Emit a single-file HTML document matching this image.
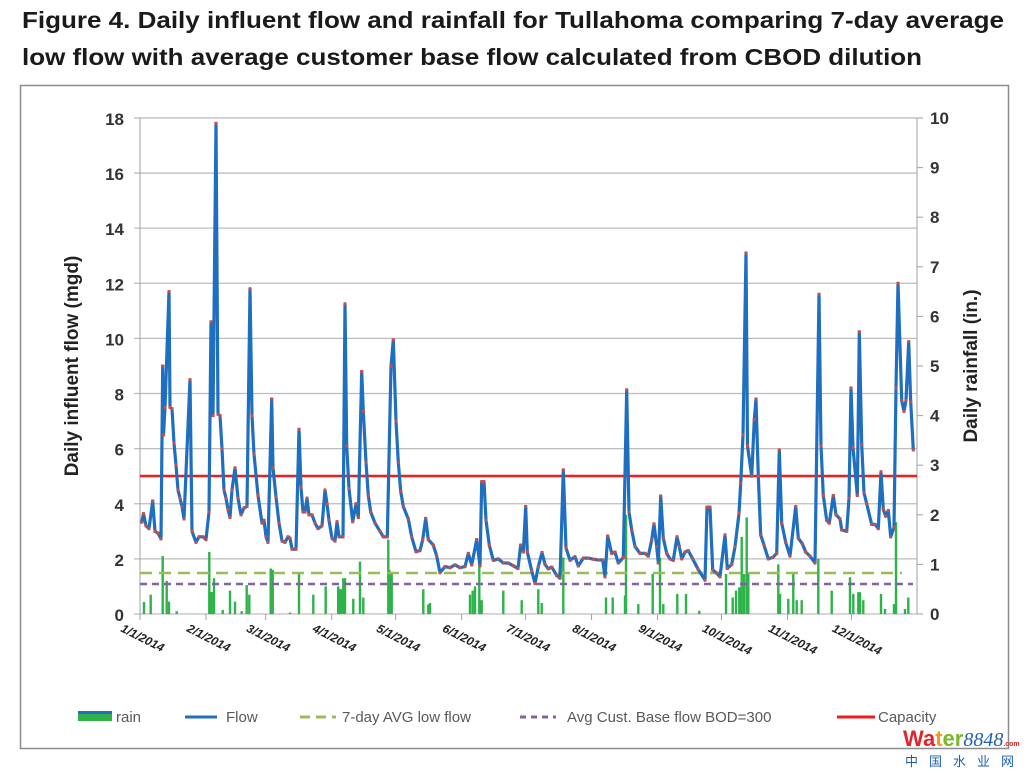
<!DOCTYPE html>
<html><head><meta charset="utf-8"><style>
html,body{margin:0;padding:0;background:#fff;}
svg{display:block;font-family:"Liberation Sans",Arial,sans-serif;}
</style></head><body>
<svg id="s" width="1031" height="774" viewBox="0 0 1031 774" xmlns="http://www.w3.org/2000/svg">
<text x="22" y="28" font-size="23" font-weight="bold" fill="#1a1a1a" textLength="982" lengthAdjust="spacingAndGlyphs">Figure 4. Daily influent flow and rainfall for Tullahoma comparing 7-day average</text>
<text x="22" y="65" font-size="23" font-weight="bold" fill="#1a1a1a" textLength="900" lengthAdjust="spacingAndGlyphs">low flow with average customer base flow calculated from CBOD dilution</text>
<rect x="20.5" y="85.5" width="988" height="663" fill="none" stroke="#8c8c8c" stroke-width="1.5"/>
<g id="grid"></g>
<g id="rain"></g>
<line x1="140" y1="573" x2="902" y2="573" stroke="#9bbb59" stroke-width="2.5" stroke-dasharray="12,7"/>
<line x1="140" y1="584" x2="913" y2="584" stroke="#8064a2" stroke-width="2.5" stroke-dasharray="7,5"/>
<line x1="140" y1="476" x2="917" y2="476" stroke="#ee1c1c" stroke-width="2.5"/>
<polyline id="flow" fill="none" stroke="#1f6fc0" stroke-width="3.2" stroke-linejoin="round"/>
<g id="dots"></g>
<g id="labels"></g>
<text transform="translate(78,366) rotate(-90)" font-size="19" font-weight="bold" fill="#222" text-anchor="middle">Daily influent flow (mgd)</text>
<text transform="translate(977,366) rotate(-90)" font-size="19" font-weight="bold" fill="#222" text-anchor="middle">Daily rainfall (in.)</text>
<g font-size="15" fill="#595959">
<rect x="78" y="711" width="34" height="10" fill="#2db34a"/><rect x="78" y="711" width="34" height="3" fill="#1f6fc0"/>
<text x="116" y="722">rain</text>
<line x1="185" y1="717" x2="217" y2="717" stroke="#1f6fc0" stroke-width="3"/>
<text x="226" y="722">Flow</text>
<line x1="300" y1="717" x2="336" y2="717" stroke="#9bbb59" stroke-width="3" stroke-dasharray="10,6"/>
<text x="342" y="722">7-day AVG low flow</text>
<line x1="520" y1="717" x2="556" y2="717" stroke="#8064a2" stroke-width="3" stroke-dasharray="6,5"/>
<text x="567" y="722">Avg Cust. Base flow BOD=300</text>
<line x1="837" y1="717" x2="875" y2="717" stroke="#ee1c1c" stroke-width="3"/>
<text x="878" y="722">Capacity</text>
</g>
<text x="903" y="746" font-size="22" font-weight="bold"><tspan fill="#e0262a">Wa</tspan><tspan fill="#f39a1e">t</tspan><tspan fill="#7ab828">er</tspan><tspan fill="#1f5fb0" font-style="italic" font-weight="normal" font-family="Liberation Serif,serif" font-size="20">8848</tspan><tspan fill="#e0262a" font-size="7">.com</tspan></text>
<text x="905" y="766" font-size="13" fill="#1f5fb0" font-family="Noto Sans CJK SC,sans-serif" letter-spacing="11">中国水业网</text>
</svg>
<script>
function Y(v){return 614-v*27.56;}
var g=document.getElementById('grid'),h='';
for(var v=0;v<=18;v+=2){h+='<line x1="134" x2="917" y1="'+Y(v)+'" y2="'+Y(v)+'" stroke="#bdbdbd" stroke-width="1.3"/>';}
h+='<line x1="140" x2="140" y1="118" y2="614" stroke="#a0a0a0"/><line x1="917" x2="917" y1="118" y2="614" stroke="#a0a0a0"/>';
for(var r=0;r<=10;r++){var y=614-r*49.6;h+='<line x1="917" x2="923" y1="'+y+'" y2="'+y+'" stroke="#a0a0a0"/>';}
var md=[0,31,59,90,120,151,181,212,243,273,304,334];
var L='';
for(var i=0;i<12;i++){var x=140+md[i]*2.13;h+='<line x1="'+x+'" x2="'+x+'" y1="614" y2="620" stroke="#a0a0a0"/>';
L+='<text transform="translate('+(x-20)+',631) rotate(27)" font-size="12" font-weight="bold" font-style="italic" fill="#222">'+(i+1)+'/1/2014</text>';}
for(var v=0;v<=18;v+=2){L+='<text x="124" y="'+(Y(v)+7)+'" font-size="17" font-weight="bold" fill="#333" text-anchor="end">'+v+'</text>';}
for(var r=0;r<=10;r++){L+='<text x="930" y="'+(614-r*49.6+6)+'" font-size="17" font-weight="bold" fill="#333">'+r+'</text>';}
g.innerHTML=h;document.getElementById('labels').innerHTML=L;
var P=[141.7,3.33,143.5,3.64,146,3.2,149,3.1,152.7,4.1,155,3.0,158,2.93,161,2.73,162.7,9.0,163.5,6.5,165,7.5,169,11.7,170,7.5,172,7.45,174,6.2,176,5.4,178,4.5,180,4.2,182,3.9,184,3.45,190,8.5,192,3.0,196,2.6,199,2.8,203,2.8,206,2.7,209,3.7,211,10.6,213,7.2,216,17.8,218,7.25,220,7.2,222,6.0,224,4.5,226,4.2,228,3.8,230,3.5,232,4.5,235,5.3,238,4.2,241,3.6,244,3.85,247,3.9,250,11.8,252,7.2,254,5.8,258,4.3,262,3.3,264,3.4,266,2.8,268,2.6,271.7,7.8,273,5.3,276,4.25,279,3.3,282,2.65,285,2.6,288,2.8,290,2.75,292,2.35,296,2.35,299,6.7,301,4.6,303,3.7,305,3.7,307,4.2,309,3.6,312,3.6,315,3.3,318,3.1,322,3.2,325,4.5,327,4.0,329,3.4,332,2.75,335,2.65,337,3.35,339,2.8,343,2.8,345,11.25,
346.7,6.1,349,4.55,352.7,3.35,356,4.0,358.3,3.5,361.7,8.8,363.3,7.35,366,5.5,368.3,4.3,370.7,3.7,375,3.3,380,3.0,383.3,2.8,387.3,2.8,391,9.0,393.3,9.95,396,7.0,398.3,5.5,400.7,4.45,403.3,3.9,408.3,3.45,411.7,2.8,416,2.26,420,2.3,422.7,2.7,425.7,3.47,428.3,2.7,433.3,2.5,436.7,2.1,440,1.5,445,1.72,450,1.68,455,1.78,460,1.68,465,1.72,468.3,2.2,471.7,1.78,476.7,2.7,480,1.75,481.7,4.8,484,4.8,486,3.4,489.3,2.5,493.3,1.95,498.3,2.0,503.3,1.85,508.3,1.85,513.3,1.75,518,1.65,520.7,2.5,523.3,2.25,525.7,3.9,527.3,2.25,531.7,1.57,535,1.11,538.3,1.72,542,2.23,545,1.8,548.3,1.64,551.7,1.7,556.7,1.4,560,1.3,563.3,5.23,566,2.4,570,1.95,575,2.08,578.3,1.74,583.3,2.03,588.3,2.03,593.3,1.99,598.3,1.96,602.7,1.96,605,1.35,607.7,2.83,611.7,2.2,615,2.25,618.3,1.85,623.3,2.05,626.7,8.13,
629,3.7,631.7,3.05,635,2.45,640,2.2,645,2.2,648.3,2.1,651.7,2.68,654,3.27,656.7,2.45,658.3,1.85,660.7,4.28,663.3,2.75,666.7,2.2,670,2.0,673.3,1.95,677,2.8,679.3,2.45,681.7,2.0,685,2.25,688.3,2.3,692.7,2.0,698,1.63,705,1.23,707,3.88,710,3.88,712.7,1.6,716.7,1.48,720,1.35,725,2.87,727.3,1.65,731.7,1.8,735,2.44,739,3.65,740.7,4.74,743,6.5,746,13.1,747.5,6.1,751.7,5.0,754.3,7.05,756,7.8,758.3,5.0,760.7,2.87,764,2.5,768.3,2.0,772.7,2.05,776.7,2.2,779.3,5.95,781.7,3.3,785.7,2.6,790,2.1,795.7,3.9,798.3,2.75,802.3,2.55,805.7,2.25,810,2.1,815,1.85,819,11.6,821,6.1,823.3,4.3,826.7,3.4,829.3,3.3,833.3,4.3,836,3.6,840,3.45,841.7,3.05,846.7,3.0,849,4.2,851,8.2,853,6.05,857.3,4.3,859.3,10.24,861.7,6.15,864,4.4,866.7,4.0,871.7,3.25,875,3.25,878.3,3.1,881,5.16,883.3,3.8,885.7,3.55,888.3,3.75,890.7,2.8,894,3.15,896,8.2,898,12.0,901.7,7.75,904,7.35,906,7.75,908.7,9.88,910.7,7.7,913.3,5.95];
var pts='',d='';
for(var i=0;i<P.length;i+=2){var x=P[i],y=Y(P[i+1]).toFixed(1);pts+=x+','+y+' ';d+='<rect x="'+(x-1.5)+'" y="'+(y-1.5)+'" width="3" height="3" fill="#c0504d"/>';}
document.getElementById('flow').setAttribute('points',pts);
document.getElementById('dots').innerHTML=d;
var R=[144,0.44,150.7,0.7,162.7,2.1,166.7,1.2,169,0.45,176.7,0.1,209.3,2.25,211.7,0.8,214,1.3,222.7,0.15,230,0.85,235,0.45,241.7,0.1,246.7,1.05,249.3,0.7,270.7,1.65,272.7,1.6,290,0.05,299,1.5,313.3,0.7,325.7,1.0,338.3,0.9,341.7,0.9,345,1.3,
338.3,1.0,340.7,0.9,343.3,1.3,353.3,0.55,360,1.9,363.3,0.6,388.3,2.7,389.3,1.6,391.7,1.45,423.3,0.9,428.3,0.35,430,0.4,470,0.7,472.7,0.85,475,1.0,479.3,1.95,481.7,0.5,503.3,0.85,521.7,0.5,538.3,0.9,541.7,0.4,563.3,2.05,606,0.6,612.7,0.6,626,3.6,
625,0.67,638.3,0.36,652.7,1.45,660,2.05,663.3,0.36,677.3,0.73,686,0.73,699.3,0.12,726,1.45,732.7,0.6,736,0.85,739.3,0.97,741.7,2.8,744,1.45,746.7,3.5,748.3,1.45,778.3,1.8,780,0.73,788.3,0.55,793.3,1.45,796.7,0.5,801.7,0.5,818.3,2.0,831.7,0.85,850,1.33,853.3,0.73,858.3,0.79,860,0.79,863.3,0.5,881,0.73,885,0.18,894,0.36,896,3.33,905,0.18,908.3,0.6];
var rh='';
for(var i=0;i<R.length;i+=2){var y=Y(R[i+1]);rh+='<rect x="'+(R[i]-1.2)+'" y="'+y.toFixed(1)+'" width="2.4" height="'+(614-y).toFixed(1)+'" fill="#2db34a"/>';}
document.getElementById('rain').innerHTML=rh;
</script>
</body></html>
